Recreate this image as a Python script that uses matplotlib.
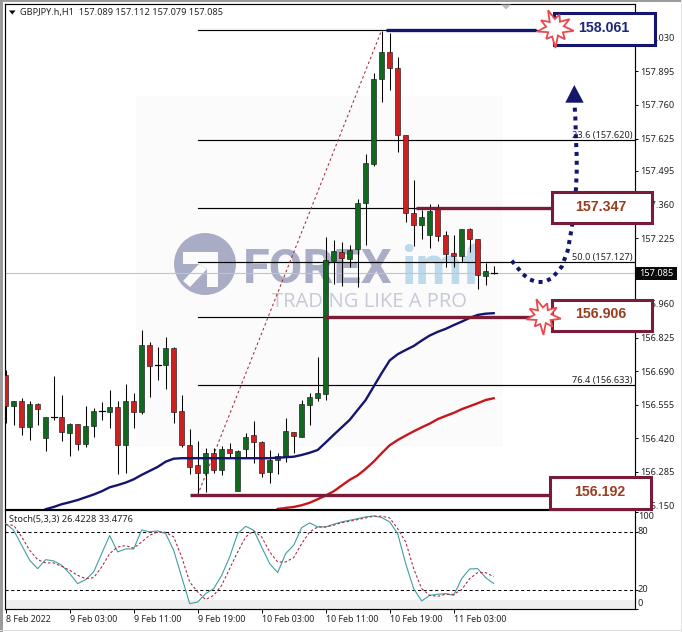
import matplotlib
matplotlib.use("Agg")
import matplotlib.pyplot as plt
import numpy as np
from matplotlib.patches import Polygon, Rectangle, Circle
from matplotlib.transforms import blended_transform_factory

plt.rcParams['font.family'] = ['Noto Sans', 'DejaVu Sans']

# ---------- data ----------
opens = [156.675,156.550,156.569,156.464,156.557,156.420,156.505,156.505,156.443,156.476,
         156.399,156.468,156.529,156.525,156.545,156.395,156.569,156.525,156.794,156.716,
         156.716,156.782,156.529,156.392,156.312,156.282,156.360,156.294,156.376,156.210,
         156.375,156.432,156.404,156.286,156.332,156.350,156.447,156.427,156.555,156.584,
         156.598,157.134,157.168,157.142,157.180,157.365,157.523,157.863,157.972,157.908,
         157.641,157.325,157.279,157.239,157.341,157.236,157.164,157.154,157.260,157.220,
         157.071,157.089]
highs = [156.695,156.569,156.581,156.568,156.561,156.506,156.671,156.594,156.480,156.476,
         156.550,156.541,156.565,156.614,156.570,156.637,156.604,156.856,156.806,156.786,
         156.829,156.786,156.594,156.458,156.411,156.380,156.380,156.389,156.400,156.371,
         156.443,156.490,156.411,156.373,156.362,156.501,156.447,156.572,156.601,156.745,
         157.228,157.217,157.211,157.197,157.381,157.563,157.888,158.059,158.048,157.951,
         157.641,157.459,157.338,157.362,157.362,157.255,157.239,157.260,157.264,157.220,
         157.124,157.112]
lows = [156.480,156.474,156.434,156.413,156.474,156.367,156.494,156.411,156.350,156.373,
        156.384,156.424,156.494,156.460,156.277,156.281,156.460,156.518,156.588,156.655,
        156.619,156.483,156.384,156.277,156.199,156.206,156.282,156.273,156.346,156.210,
        156.340,156.320,156.266,156.239,156.277,156.326,156.362,156.424,156.474,156.568,
        156.574,157.040,157.032,157.110,157.030,157.197,157.515,157.774,157.821,157.573,
        157.291,157.193,157.220,157.187,157.215,157.110,157.110,157.130,157.170,157.019,
        157.036,157.079]
closes = [156.550,156.569,156.464,156.557,156.537,156.506,156.505,156.444,156.478,156.399,
          156.468,156.529,156.529,156.545,156.395,156.569,156.525,156.794,156.710,156.716,
          156.782,156.527,156.392,156.306,156.282,156.360,156.293,156.376,156.362,156.368,
          156.424,156.404,156.282,156.332,156.350,156.448,156.428,156.558,156.585,156.601,
          157.137,157.172,157.144,157.177,157.365,157.526,157.863,157.972,157.910,157.641,
          157.325,157.279,157.310,157.333,157.233,157.162,157.154,157.260,157.220,157.075,
          157.091,157.085]

ma_fast_start = 5
ma_fast = [156.135,156.144,156.155,156.163,156.172,156.183,156.194,156.207,156.223,156.232,
           156.242,156.255,156.273,156.289,156.305,156.326,156.338,156.340,156.340,156.340,
           156.340,156.340,156.340,156.340,156.340,156.340,156.340,156.340,156.340,156.342,
           156.344,156.346,156.353,156.362,156.373,156.403,156.434,156.464,156.494,156.534,
           156.574,156.628,156.682,156.733,156.758,156.775,156.791,156.813,156.833,156.848,
           156.860,156.875,156.889,156.904,156.916,156.921,156.923]
ma_slow_start = 34
ma_slow = [156.136,156.140,156.144,156.151,156.161,156.175,156.190,156.207,156.230,156.253,
           156.271,156.297,156.326,156.360,156.392,156.413,156.431,156.448,156.464,156.479,
           156.497,156.510,156.522,156.537,156.549,156.561,156.574,156.581]

stoch_main = [88.3,81.4,65.9,50.3,41.7,51.0,49.7,45.2,36.6,26.2,30.3,38.3,57.3,75.9,59.0,62.1,
              62.1,81.7,79.7,80.7,77.9,60.7,33.1,5.5,7.2,15.9,21.0,34.8,53.8,77.9,85.5,81.4,
              64.1,46.9,37.6,57.3,65.9,84.1,89.0,84.8,84.8,87.6,90.0,91.7,93.4,95.2,96.2,94.5,
              90.0,77.9,46.9,21.0,8.3,14.1,15.2,15.9,14.1,31.4,41.4,41.7,32.4,26.42]
stoch_signal = [87.0,86.6,74.5,60.7,51.0,47.6,47.6,44.1,40.0,34.8,31.4,32.4,43.4,57.3,64.1,65.5,
                62.8,69.3,76.2,79.7,79.3,74.5,53.8,27.9,17.6,9.7,14.1,24.5,41.7,59.0,74.5,80.7,
                74.5,59.0,48.6,48.6,53.1,67.6,79.7,84.8,84.8,86.6,89.3,90.7,92.4,94.1,95.9,95.9,
                94.1,83.1,69.3,41.7,21.0,14.1,13.1,15.2,15.2,20.0,31.4,37.6,37.6,33.48]

fib_levels = [158.061, 157.620, 157.347, 157.127, 156.906, 156.633]
fib_labels = {157.620: "23.6 (157.620)", 157.127: "50.0 (157.127)", 156.633: "76.4 (156.633)"}
fib_low, fib_high = 156.192, 158.061
last_price = 157.085

price_ticks = [158.030,157.895,157.760,157.625,157.495,157.360,157.225,
               156.960,156.825,156.690,156.555,156.420,156.285,156.150]
time_tick_bars = [0,8,16,24,32,40,48,56]
time_tick_labels = ["8 Feb 2022","9 Feb 03:00","9 Feb 11:00","9 Feb 19:00",
                    "10 Feb 03:00","10 Feb 11:00","10 Feb 19:00","11 Feb 03:00"]

# ---------- layout ----------
W, H = 682, 632
fig = plt.figure(figsize=(W/100, H/100), dpi=100, facecolor='white')
def axpx(l, t, r, b, **k):
    return fig.add_axes([l/W, 1-b/H, (r-l)/W, (b-t)/H], **k)

NAVY = '#14166e'
MAROON = '#7a1c38'
GREEN = '#11691f'
RED = '#cf1f1f'
TXT = '#222222'
FS = 6.6

# background with watermark
bg = fig.add_axes([0,0,1,1], zorder=0)
bg.set_xlim(0,W); bg.set_ylim(H,0); bg.axis('off')
bg.add_patch(Rectangle((136,96),367,351,fc='#fbfbfc',ec='none'))
bg.add_patch(Circle((205,264),31,fc='#a9acc5',ec='none'))
bg.add_patch(Polygon([(183,252),(218,252),(218,287),(207,287),(207,269),(199,264),(183,264)],fc='#fbfbfc',ec='none'))
bg.add_patch(Polygon([(199,264),(207,269),(190,287),(183,281)],fc='#fbfbfc',ec='none'))
bg.text(243,270,"FOREX",fontsize=35,fontweight='bold',color='#a9adc6',family='Roboto',va='center',ha='left')
bg.text(401,270,"imf",fontsize=39,fontweight='bold',color='#bcdaec',family='Roboto',va='center',ha='left')
bg.text(272,302,"TRADING LIKE A PRO",fontsize=14.5,color='#c6c9d6',family='Open Sans',va='center',ha='left')

# main price panel
ax = axpx(4.5,4,634.7,508.7,zorder=1)
ax.patch.set_visible(False)
px = lambda x: (x-5.67)/8
ax.set_xlim(px(4.5),px(634.7))
ax.set_ylim(156.137,158.166)
n = len(opens)
xs = np.arange(n)
ax.axhline(last_price,color='#c4c4c4',lw=0.8,zorder=1)
for lv in fib_levels:
    ax.plot([24,px(634.7)],[lv,lv],color='black',lw=0.85,zorder=2)
for lv,t in fib_labels.items():
    ax.annotate(t,xy=(1,lv),xycoords=ax.get_yaxis_transform(),xytext=(-1.5,0),
                textcoords='offset points',ha='right',va='bottom',fontsize=FS,color=TXT,zorder=3)
ax.plot([24,47],[fib_low,fib_high],color='#a52a3a',lw=0.75,ls=(0,(2.5,2.5)),zorder=2)

ma_x = np.arange(ma_fast_start,ma_fast_start+len(ma_fast))
ms_x = np.arange(ma_slow_start,ma_slow_start+len(ma_slow))

ax.vlines(xs,lows,highs,color='black',lw=0.75,zorder=4)
for i in xs:
    o,c = opens[i],closes[i]
    if abs(o-c) < 0.006:
        ax.plot([i-0.38,i+0.38],[c,c],color='black',lw=0.85,zorder=5)
    else:
        ax.bar(i,abs(c-o),bottom=min(o,c),width=0.62,color=GREEN if c>o else RED,
               edgecolor='#1b1b1b',lw=0.45,zorder=5)
ax.plot(ma_x,ma_fast,color=NAVY,lw=1.7,zorder=6)
ax.plot(ms_x,ma_slow,color='#c9161d',lw=1.7,zorder=6)

# thick price markers
ax.plot([px(386),px(536)],[fib_high]*2,color=NAVY,lw=2.4,clip_on=False,zorder=7,solid_capstyle='butt')
ax.plot([px(416),px(552)],[157.347]*2,color=MAROON,lw=2.4,clip_on=False,zorder=7,solid_capstyle='butt')
ax.plot([px(325),px(552)],[156.906]*2,color=MAROON,lw=2.4,clip_on=False,zorder=7,solid_capstyle='butt')
ax.plot([px(190),px(552)],[fib_low]*2,color=MAROON,lw=2.4,clip_on=False,zorder=7,solid_capstyle='butt')

ax.set_xticks([])
ax.yaxis.tick_right()
ax.set_yticks(price_ticks)
ax.set_yticklabels([f"{p:.3f}" for p in price_ticks],fontsize=FS,color=TXT)
ax.tick_params(axis='y',length=2,width=0.7,pad=2.2,color='black')
for s in ax.spines.values():
    s.set_linewidth(0.85)

# stochastic panel
st = axpx(4.5,510.3,634.7,609,zorder=1)
st.set_xlim(px(4.5),px(634.7))
st.set_ylim(0,102)
st.axhspan(0,9,color='#efefef',lw=0,zorder=0)
st.axhline(80,color='black',lw=0.75,ls=(0,(3,2.5)),zorder=1)
st.axhline(20,color='black',lw=0.75,ls=(0,(3,2.5)),zorder=1)
st.plot(xs,stoch_main,color='#3f9fa3',lw=0.8,zorder=3)
st.plot(xs,stoch_signal,color='#a8243a',lw=0.75,ls=(0,(2.5,2)),zorder=3)
st.yaxis.tick_right()
st.set_yticks([100,80,20,0])
st.set_yticklabels([])
st.tick_params(axis='y',length=2,width=0.7,color='black')
tr = blended_transform_factory(st.transAxes,st.transData)
for v,dy in [(100,-3.4),(80,0),(20,0),(0,4.2)]:
    st.annotate(str(v),xy=(1,v),xycoords=tr,xytext=(2.2,dy),textcoords='offset points',
                ha='left',va='center',fontsize=FS,color=TXT,annotation_clip=False)
st.set_xticks(time_tick_bars)
st.set_xticklabels(time_tick_labels,fontsize=6.4,color=TXT,ha='left')
st.tick_params(axis='x',length=2.6,width=0.7,pad=1.6)
for s in st.spines.values():
    s.set_linewidth(0.85)
st.text(0.0075,0.905,"Stoch(5,3,3) 26.4228 33.4776",transform=st.transAxes,fontsize=FS,color=TXT,va='center',ha='left',zorder=5)

# overlay annotations in picture space
ov = fig.add_axes([0,0,1,1],zorder=5)
ov.set_xlim(0,W); ov.set_ylim(H,0); ov.axis('off'); ov.patch.set_visible(False)

# window frame
ov.add_patch(Rectangle((0,0),3.2,H,fc='#9b9b9b',ec='none'))
ov.add_patch(Rectangle((0,0),W,2.2,fc='#9b9b9b',ec='none'))
ov.add_patch(Rectangle((0,629.5),W,1.2,fc='#dddddd',ec='none'))
ov.add_patch(Rectangle((680.5,0),1.5,H,fc='#e4e4e4',ec='none'))
ov.add_patch(Polygon([(501,4.5),(511,4.5),(506,9.5)],fc='#bdbdbd',ec='none'))

ov.add_patch(Polygon([(9,10.5),(15.5,10.5),(12.2,14.5)],fc='black',ec='none'))
ov.text(20,12.5,"GBPJPY.h,H1  157.089 157.112 157.079 157.085",fontsize=FS,color=TXT,va='center',ha='left')

# dotted forecast path
pts = np.array([(511.7,260.7),(516.7,266.7),(522.7,274),(529.3,279.3),(536.7,282),(544,282),(551.7,278.3),
                (556.7,272.7),(561.7,266.7),(567.7,250.7),(571.7,228.3),(574,210),(576,188.3),(576.7,171.7),
                (576.7,156.7),(576,140),(575.3,116.7),(574.7,106.7)])
ov.plot(pts[:,0],pts[:,1],color=NAVY,lw=2.9,ls=(0,(1,1.2)),dash_capstyle='butt',zorder=2)
ov.add_patch(Polygon([(574.3,85),(565.3,102.7),(583.7,102.7)],fc=NAVY,ec='none',zorder=3))

# boxes
boxes = [((554,12.7,655,45),NAVY,'#1f2878',"158.061",(604,28)),
         ((552,192,652,222.7),MAROON,'#9a3d20',"157.347",(601,207)),
         ((552,300,652,331),MAROON,'#9a3d20',"156.906",(601,314.3)),
         ((550,476.7,651,508.7),MAROON,'#9a3d20',"156.192",(600,491.7))]
for (l,t,r,b),ec,tc,txt,(tx,ty) in boxes:
    ov.add_patch(Rectangle((l,t),r-l,b-t,fc='white',ec=ec,lw=2.2,zorder=4))
    ov.text(tx,ty,txt,fontsize=10.2,fontweight='bold',color=tc,family='Liberation Sans',
            ha='center',va='center',zorder=7)

# starbursts
star_r = [19,9,15,8,20,9,14,8,18,9,16,8,19,9,14,8,17,9]
def star(cx,cy,scale=1.0):
    th = np.linspace(0,2*np.pi,len(star_r),endpoint=False)+0.15
    return np.c_[cx+np.array(star_r)*scale*np.cos(th),cy+np.array(star_r)*scale*np.sin(th)]
ov.add_patch(Polygon(star(555,28),fc='white',ec='#e8484e',lw=1.3,zorder=5))
ov.add_patch(Polygon(star(543,316,0.95),fc='white',ec='#e8484e',lw=1.3,zorder=5))

# last price tag
ov.add_patch(Rectangle((636,267),41,12.5,fc='#0a0a0a',ec='none',zorder=6))
ov.text(656.5,273.2,f"{last_price:.3f}",fontsize=FS,color='white',ha='center',va='center',zorder=7)

fig.savefig("out.png",dpi=100)
